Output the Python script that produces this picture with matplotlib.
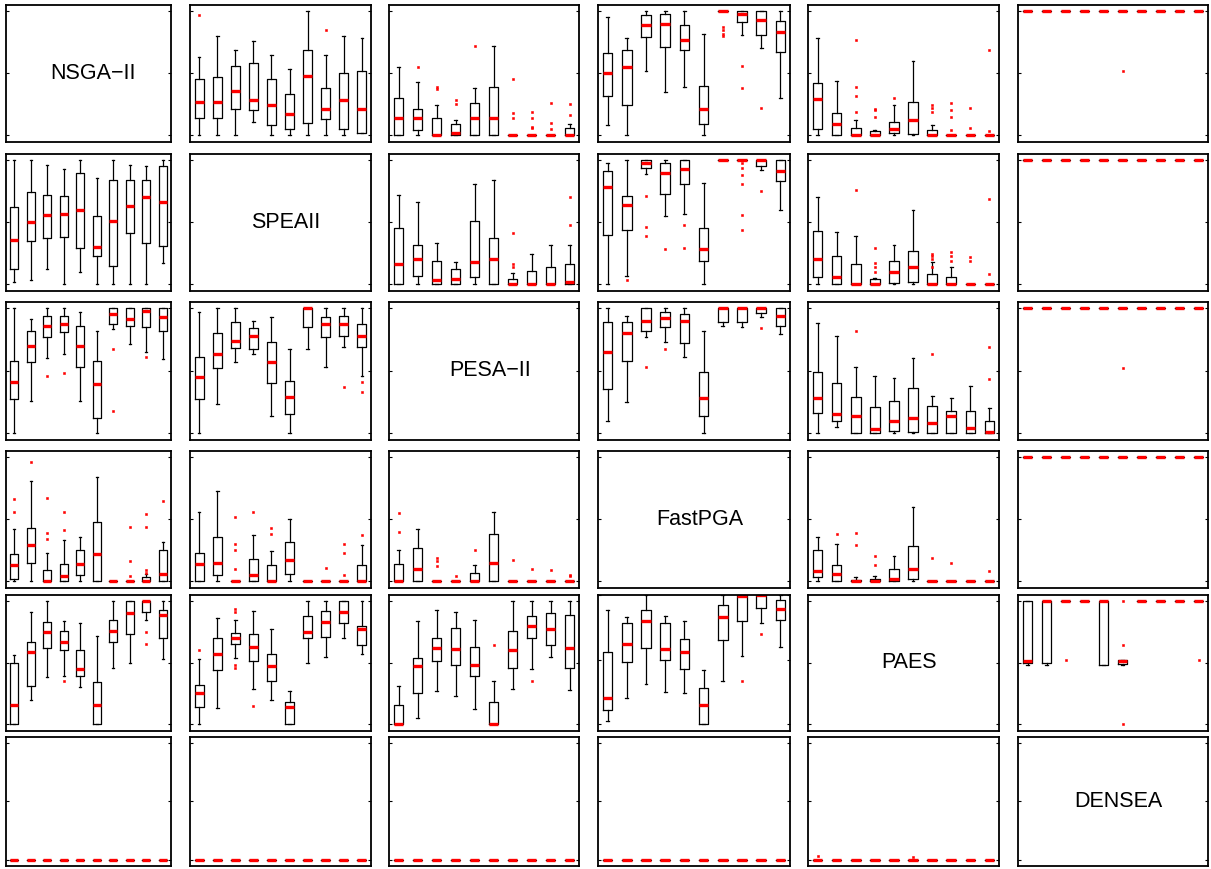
import matplotlib.pyplot as plt

# Pairwise boxplots of 6 MOEAs, 10 test problems per panel
names = ["NSGA\u2212II", "SPEAII", "PESA\u2212II", "FastPGA", "PAES", "DENSEA"]

# each box panel: rows = whisker low, q1, median, q3, whisker high
ZERO = [0, 0, 0, 0, 0, 0, 0, 0, 0, 0]
ONE = [1, 1, 1, 1, 1, 1, 1, 1, 1, 1]
NOFLY = [[], [], [], [], [], [], [], [], [], []]

box_01 = [[0, 0, 0, 0.11, 0, 0, 0, 0, 0, 0.02],
          [0.14, 0.14, 0.21, 0.20, 0.08, 0.05, 0.10, 0.13, 0.05, 0.02],
          [0.27, 0.27, 0.36, 0.28, 0.24, 0.17, 0.48, 0.21, 0.28, 0.21],
          [0.45, 0.47, 0.56, 0.58, 0.45, 0.33, 0.69, 0.38, 0.50, 0.52],
          [0.63, 0.80, 0.69, 0.76, 0.65, 0.53, 1.0, 0.65, 0.80, 0.78]]
fly_01 = [[0.97], [], [], [], [], [], [], [0.85], [], []]

box_02 = [ZERO,
          [0, 0.04, 0, 0, 0, 0, 0, 0, 0, 0],
          [0.14, 0.14, 0, 0.02, 0.14, 0.14, 0, 0, 0, 0],
          [0.30, 0.21, 0.14, 0.09, 0.26, 0.39, 0, 0, 0, 0.06],
          [0.55, 0.43, 0.24, 0.12, 0.38, 0.72, 0, 0, 0, 0.09]]
fly_02 = [[], [0.55], [0.39, 0.37], [0.28, 0.25], [0.72], [],
          [0.45, 0.18, 0.14], [0.19, 0.14, 0.07, 0.06], [0.26, 0.10, 0.05], [0.25, 0.16]]

box_03 = [[0.08, 0, 0.52, 0.35, 0.39, 0, 1, 0.81, 0.70, 0.30],
          [0.32, 0.24, 0.79, 0.71, 0.69, 0.09, 1, 0.91, 0.81, 0.67],
          [0.50, 0.55, 0.89, 0.90, 0.77, 0.21, 1, 0.98, 0.93, 0.83],
          [0.66, 0.69, 0.97, 0.98, 0.89, 0.40, 1, 1, 1, 0.92],
          [0.95, 0.78, 1, 1, 1, 0.82, 1, 1, 1, 1]]
fly_03 = [[], [], [], [], [], [], [0.87, 0.85, 0.82, 0.80], [0.56, 0.38], [0.22], []]

box_04 = [ZERO,
          [0.05, 0, 0, 0, 0.02, 0.01, 0, 0, 0, 0],
          [0.29, 0.09, 0, 0, 0.05, 0.12, 0, 0, 0, 0],
          [0.42, 0.18, 0.06, 0.03, 0.11, 0.27, 0.04, 0, 0, 0],
          [0.78, 0.44, 0.12, 0.04, 0.24, 0.60, 0.08, 0, 0, 0]]
fly_04 = [[], [], [0.77, 0.39, 0.32, 0.19], [0.21, 0.20, 0.15], [0.30], [],
          [0.24, 0.22, 0.19], [0.26, 0.20, 0.15, 0.04], [0.22, 0.06], [0.69, 0.03]]

box_05 = [ONE, ONE, ONE, ONE, ONE]
fly_05 = [[], [], [], [], [], [0.52], [], [], [], []]

box_10 = [[0.02, 0.03, 0.12, 0, 0.10, 0, 0, 0, 0, 0.17],
          [0.12, 0.35, 0.37, 0.38, 0.29, 0.23, 0.15, 0.41, 0.33, 0.31],
          [0.36, 0.50, 0.56, 0.57, 0.60, 0.30, 0.51, 0.63, 0.70, 0.66],
          [0.62, 0.74, 0.72, 0.71, 0.90, 0.55, 0.84, 0.84, 0.84, 0.95],
          [1, 1, 0.96, 0.93, 1, 0.86, 1, 0.96, 0.95, 1]]
fly_10 = NOFLY

box_12 = [ZERO,
          [0, 0.07, 0, 0, 0.06, 0, 0, 0, 0, 0],
          [0.16, 0.20, 0.03, 0.04, 0.18, 0.20, 0, 0, 0, 0.02],
          [0.45, 0.32, 0.19, 0.12, 0.51, 0.37, 0.04, 0.11, 0.14, 0.16],
          [0.72, 0.66, 0.33, 0.18, 0.81, 0.84, 0.09, 0.24, 0.32, 0.32]]
fly_12 = [[], [], [], [], [], [], [0.41, 0.16, 0.14], [], [], [0.70, 0.48]]

box_13 = [[0, 0.07, 0.89, 0.55, 0.57, 0, 1, 1, 0.92, 0.60],
          [0.40, 0.44, 0.94, 0.73, 0.81, 0.19, 1, 1, 0.95, 0.83],
          [0.78, 0.64, 0.98, 0.90, 0.93, 0.28, 1, 1, 1, 0.91],
          [0.91, 0.71, 1, 0.98, 1, 0.45, 1, 1, 1, 1],
          [0.98, 1, 1, 1, 1, 0.82, 1, 1, 1, 1]]
fly_13 = [[], [0.03], [0.71, 0.46, 0.39], [0.28], [0.48, 0.29], [], [],
          [0.98, 0.94, 0.88, 0.81, 0.56, 0.44], [0.75], []]

box_14 = [ZERO,
          [0.06, 0, 0, 0, 0.01, 0.02, 0, 0, 0, 0],
          [0.20, 0.06, 0, 0, 0.10, 0.14, 0, 0, 0, 0],
          [0.43, 0.23, 0.16, 0.04, 0.19, 0.27, 0.08, 0.06, 0, 0],
          [0.70, 0.42, 0.39, 0.05, 0.32, 0.60, 0.18, 0.14, 0, 0]]
fly_14 = [[], [], [0.76], [0.29, 0.17, 0.14, 0.10], [], [],
          [0.24, 0.23, 0.20, 0.14], [0.26, 0.23, 0.19], [0.22, 0.19], [0.69, 0.08]]

box_15 = [ONE, ONE, ONE, ONE, ONE]
fly_15 = NOFLY

box_20 = [[0, 0.26, 0.60, 0.63, 0.26, 0, 0.83, 0.71, 0.65, 0.59],
          [0.27, 0.57, 0.77, 0.81, 0.53, 0.12, 0.87, 0.86, 0.85, 0.82],
          [0.41, 0.70, 0.86, 0.87, 0.70, 0.39, 0.95, 0.91, 0.98, 0.93],
          [0.58, 0.82, 0.94, 0.94, 0.86, 0.58, 1, 1, 1, 1],
          [1, 0.91, 1, 1, 0.97, 0.82, 1, 1, 1, 1]]
fly_20 = [[], [], [0.46], [0.48], [], [], [0.67, 0.18], [], [0.61], []]

box_21 = [[0, 0.23, 0.57, 0.63, 0.14, 0, 0.67, 0.53, 0.69, 0.46],
          [0.27, 0.52, 0.68, 0.67, 0.40, 0.15, 0.85, 0.77, 0.78, 0.69],
          [0.45, 0.63, 0.74, 0.78, 0.57, 0.29, 1, 0.87, 0.87, 0.78],
          [0.61, 0.80, 0.89, 0.84, 0.73, 0.42, 1, 0.93, 0.94, 0.87],
          [0.97, 1, 1, 0.90, 0.93, 0.67, 1, 1, 1, 1]]
fly_21 = [[], [], [], [], [], [], [], [], [0.37], [0.41, 0.33]]

box_23 = [[0.10, 0.25, 0.77, 0.73, 0.61, 0, 0.86, 0.85, 0.93, 0.79],
          [0.35, 0.58, 0.82, 0.85, 0.72, 0.14, 0.89, 0.89, 0.96, 0.86],
          [0.65, 0.80, 0.90, 0.92, 0.90, 0.28, 1, 1, 1, 0.94],
          [0.89, 0.89, 1, 0.97, 0.95, 0.49, 1, 1, 1, 1],
          [1, 0.94, 1, 1, 1, 0.82, 1, 1, 1, 1]]
fly_23 = [[], [], [0.53], [0.67], [], [], [], [], [0.84], []]

box_24 = [[0, 0.05, 0, 0, 0, 0, 0, 0, 0, 0],
          [0.16, 0.10, 0, 0, 0.02, 0.01, 0, 0, 0, 0],
          [0.28, 0.15, 0.14, 0.03, 0.10, 0.12, 0.08, 0.14, 0.04, 0.01],
          [0.49, 0.40, 0.29, 0.21, 0.26, 0.36, 0.22, 0.18, 0.18, 0.10],
          [0.88, 0.78, 0.53, 0.46, 0.44, 0.60, 0.30, 0.28, 0.38, 0.20]]
fly_24 = [[], [], [0.82], [], [], [], [0.63], [], [], [0.69, 0.43]]

box_25 = [ONE, ONE, ONE, ONE, ONE]
fly_25 = [[], [], [], [], [], [0.52], [], [], [], []]

box_30 = [ZERO,
          [0.02, 0.15, 0, 0, 0.05, 0, 0, 0, 0, 0],
          [0.13, 0.29, 0, 0.04, 0.14, 0.22, 0, 0, 0, 0.06],
          [0.22, 0.43, 0.09, 0.14, 0.25, 0.48, 0, 0, 0.03, 0.25],
          [0.42, 0.81, 0.23, 0.33, 0.36, 0.84, 0, 0, 0.06, 0.32]]
fly_30 = [[0.66, 0.56], [0.96], [0.67, 0.39, 0.34], [0.56, 0.41], [], [], [],
          [0.44, 0.16, 0.04], [0.54, 0.44, 0.09, 0.07], [0.65]]

box_31 = [ZERO,
          [0, 0.05, 0, 0, 0, 0.06, 0, 0, 0, 0],
          [0.14, 0.15, 0, 0.05, 0, 0.17, 0, 0, 0, 0],
          [0.23, 0.36, 0, 0.18, 0.13, 0.32, 0, 0, 0, 0.13],
          [0.56, 0.73, 0, 0.37, 0.24, 0.50, 0, 0, 0, 0.29]]
fly_31 = [[], [], [0.52, 0.30, 0.25, 0.10], [0.56], [0.43, 0.38], [], [],
          [0.11], [0.30, 0.23, 0.05], [0.37]]

box_32 = [ZERO, ZERO,
          [0, 0.10, 0, 0, 0, 0.15, 0, 0, 0, 0],
          [0.14, 0.27, 0, 0, 0.07, 0.38, 0, 0, 0, 0],
          [0.25, 0.42, 0, 0, 0.13, 0.56, 0, 0, 0, 0]]
fly_32 = [[0.55, 0.40], [], [0.19, 0.16, 0.12], [0.04], [0.25], [], [0.17],
          [0.10], [0.09], [0.05, 0.04]]

box_34 = [ZERO,
          [0.03, 0, 0, 0, 0, 0.02, 0, 0, 0, 0],
          [0.08, 0.06, 0, 0, 0.02, 0.10, 0, 0, 0, 0],
          [0.25, 0.13, 0.01, 0.02, 0.10, 0.28, 0, 0, 0, 0],
          [0.36, 0.30, 0.03, 0.04, 0.20, 0.60, 0, 0, 0, 0]]
fly_34 = [[], [0.38], [0.39, 0.29], [0.20, 0.13], [], [], [0.19], [0.15], [], [0.08]]

box_35 = [ONE, ONE, ONE, ONE, ONE]
fly_35 = NOFLY

box_40 = [[0, 0.20, 0.38, 0.39, 0.30, 0, 0.46, 0.50, 0.85, 0.53],
          [0, 0.31, 0.62, 0.60, 0.39, 0, 0.67, 0.73, 0.91, 0.70],
          [0.16, 0.59, 0.75, 0.67, 0.45, 0.16, 0.76, 0.90, 1, 0.89],
          [0.50, 0.67, 0.83, 0.76, 0.60, 0.34, 0.85, 1, 1, 0.93],
          [0.56, 0.91, 1, 0.84, 0.82, 0.72, 1, 1, 1, 1]]
fly_40 = [[], [], [], [0.35], [], [], [], [], [0.75, 0.65], []]

box_41 = [[0, 0.13, 0.54, 0.29, 0.20, 0, 0.50, 0.55, 0.70, 0.57],
          [0.14, 0.44, 0.65, 0.51, 0.35, 0, 0.70, 0.71, 0.82, 0.64],
          [0.25, 0.57, 0.70, 0.63, 0.47, 0.14, 0.75, 0.83, 0.91, 0.77],
          [0.32, 0.70, 0.74, 0.73, 0.57, 0.18, 0.88, 0.92, 1, 0.80],
          [0.53, 0.86, 0.85, 0.92, 0.77, 0.27, 1, 1, 1, 1]]
fly_41 = [[0.60], [], [0.94, 0.91, 0.48, 0.46], [0.15], [], [], [], [], [], []]

box_42 = [[0, 0.05, 0.27, 0.23, 0.12, 0, 0.29, 0.45, 0.55, 0.28],
          [0, 0.25, 0.51, 0.48, 0.39, 0, 0.46, 0.70, 0.64, 0.46],
          [0, 0.47, 0.62, 0.61, 0.48, 0, 0.60, 0.80, 0.77, 0.62],
          [0.16, 0.54, 0.70, 0.78, 0.63, 0.18, 0.76, 0.88, 0.90, 0.89],
          [0.31, 0.84, 0.93, 0.91, 0.85, 0.35, 1, 1, 1, 1]]
fly_42 = [[], [], [], [], [], [0.64], [], [0.35], [], []]

box_43 = [[0.02, 0.20, 0.31, 0.25, 0.24, 0, 0.33, 0.53, 0.78, 0.60],
          [0.11, 0.48, 0.59, 0.50, 0.43, 0, 0.65, 0.80, 0.90, 0.81],
          [0.20, 0.62, 0.80, 0.58, 0.56, 0.15, 0.83, 0.99, 1, 0.89],
          [0.56, 0.78, 0.88, 0.78, 0.66, 0.28, 0.92, 1, 1, 0.96],
          [0.88, 0.83, 1, 0.84, 0.80, 0.42, 1, 1, 1, 1]]
fly_43 = [[], [], [], [], [], [], [], [0.33], [0.70], []]

box_45 = [[0.48, 0.48, 1, 1, 0.48, 0.48, 1, 1, 1, 1],
          [0.50, 0.50, 1, 1, 0.48, 0.49, 1, 1, 1, 1],
          [0.51, 1, 1, 1, 1, 0.51, 1, 1, 1, 1],
          [1, 1, 1, 1, 1, 0.52, 1, 1, 1, 1],
          [1, 1, 1, 1, 1, 0.52, 1, 1, 1, 1]]
fly_45 = [[], [], [0.52], [], [], [1.0, 0.64, 0.0], [], [], [], [0.52]]

box_5x = [ZERO, ZERO, ZERO, ZERO, ZERO]
fly_54 = [[0.03], [], [], [], [], [0.02], [], [], [], []]

panels = {
    (0, 1): (box_01, fly_01), (0, 2): (box_02, fly_02), (0, 3): (box_03, fly_03),
    (0, 4): (box_04, fly_04), (0, 5): (box_05, fly_05),
    (1, 0): (box_10, fly_10), (1, 2): (box_12, fly_12), (1, 3): (box_13, fly_13),
    (1, 4): (box_14, fly_14), (1, 5): (box_15, fly_15),
    (2, 0): (box_20, fly_20), (2, 1): (box_21, fly_21), (2, 3): (box_23, fly_23),
    (2, 4): (box_24, fly_24), (2, 5): (box_25, fly_25),
    (3, 0): (box_30, fly_30), (3, 1): (box_31, fly_31), (3, 2): (box_32, fly_32),
    (3, 4): (box_34, fly_34), (3, 5): (box_35, fly_35),
    (4, 0): (box_40, fly_40), (4, 1): (box_41, fly_41), (4, 2): (box_42, fly_42),
    (4, 3): (box_43, fly_43), (4, 5): (box_45, fly_45),
    (5, 0): (box_5x, NOFLY), (5, 1): (box_5x, NOFLY), (5, 2): (box_5x, NOFLY),
    (5, 3): (box_5x, NOFLY), (5, 4): (box_5x, fly_54),
}

# panel edges in pixels
W, H = 1211, 869
lefts = [6, 190, 389, 598, 808, 1018]
rights = [171, 371, 579, 790, 999, 1208]
tops = [5, 154, 302, 451, 595, 737]
bottoms = [142, 291, 440, 588, 731, 866]

fig = plt.figure(figsize=(W / 100, H / 100), dpi=100)


def make_stats(box, fly):
    lo, q1, med, q3, hi = box
    out = []
    for k in range(10):
        out.append(dict(whislo=lo[k], q1=q1[k], med=med[k], q3=q3[k],
                        whishi=hi[k], fliers=fly[k]))
    return out


for i in range(6):
    for j in range(6):
        l, r, t, b = lefts[j], rights[j], tops[i], bottoms[i]
        ax = fig.add_axes([l / W, 1 - b / H, (r - l) / W, (b - t) / H])
        if i == j:
            ax.text(0.53, 0.5, names[i], transform=ax.transAxes, ha='center',
                    va='center', fontsize=15.5,
                    family=['Liberation Sans', 'DejaVu Sans'])
        elif (i, j) in panels:
            box, fly = panels[(i, j)]
            ax.bxp(make_stats(box, fly), positions=range(1, 11), widths=0.5,
                   capwidths=0.15, manage_ticks=False,
                   boxprops=dict(color='black', lw=0.9),
                   whiskerprops=dict(color='black', lw=0.9),
                   capprops=dict(color='black', lw=0.9),
                   medianprops=dict(color='red', lw=2.4, solid_capstyle='butt'),
                   flierprops=dict(marker='s', markersize=1.5, markerfacecolor='red',
                                   markeredgecolor='red', markeredgewidth=0.4))
        ax.set_xlim(0.5, 10.5)
        if (i, j) == (4, 3):
            ax.set_ylim(-0.054, 1.0)
        else:
            ax.set_ylim(-0.055, 1.05)
        ax.set_xticks([])
        ax.set_yticks([0, 0.5, 1])
        ax.set_yticklabels([])
        ax.tick_params(axis='y', direction='in', length=2.5, width=0.8,
                       left=True, right=True)
        for s in ax.spines.values():
            s.set_linewidth(1.3)

fig.savefig("out.png", dpi=100)
